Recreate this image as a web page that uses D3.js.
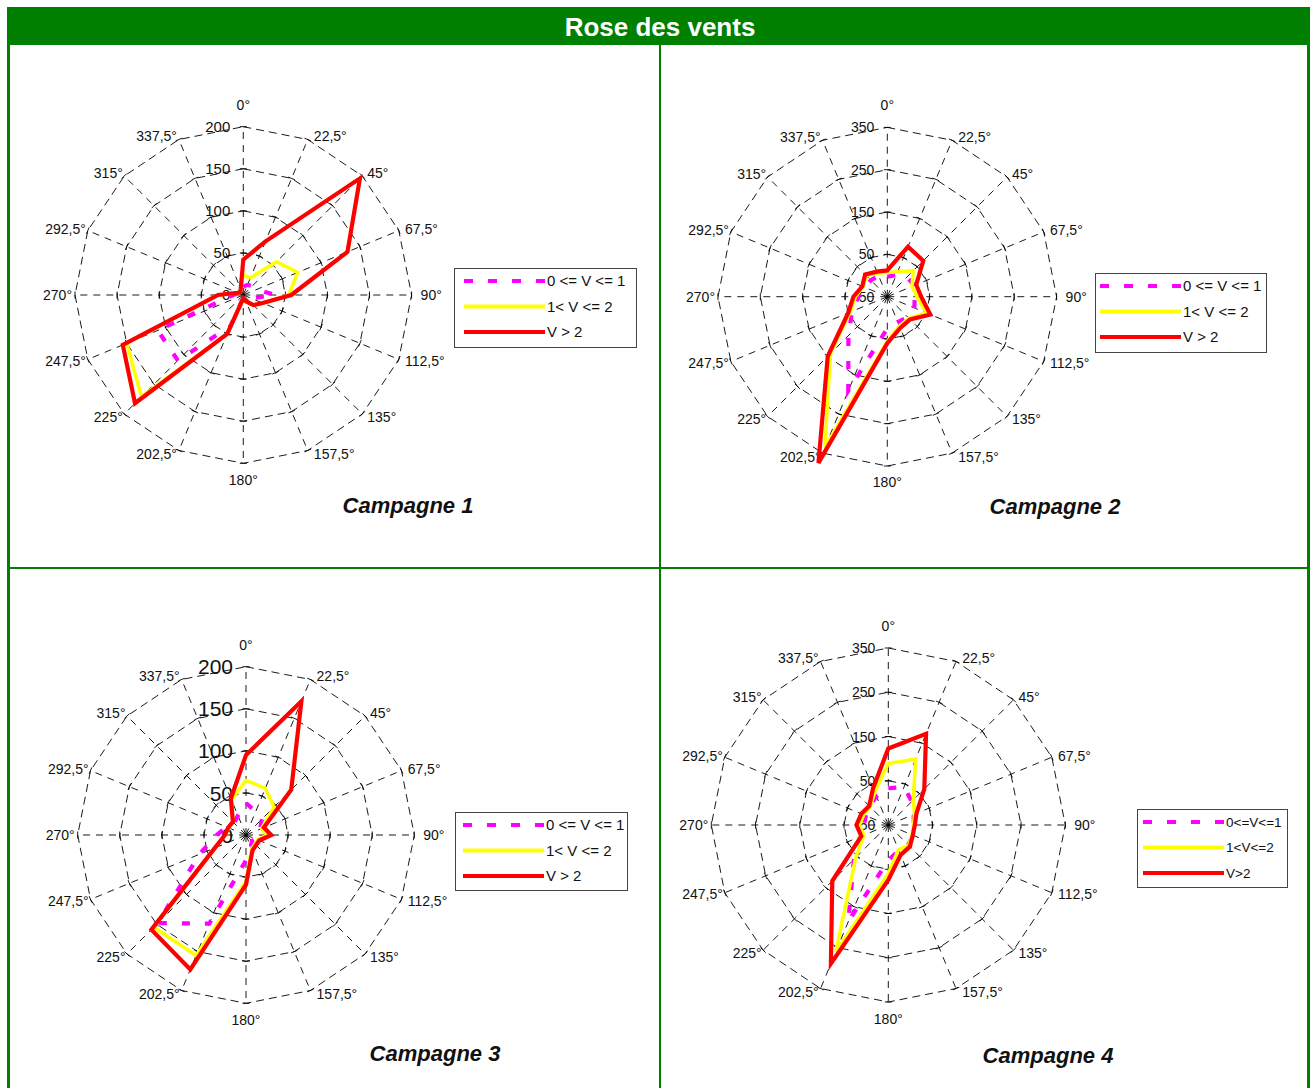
<!DOCTYPE html>
<html><head><meta charset="utf-8">
<script src="https://cdn.jsdelivr.net/npm/d3@7"></script>
<style>
body{margin:0;background:#fff}
svg{display:block}
text{font-family:"Liberation Sans",Arial,sans-serif;fill:#111}
</style>
</head><body>
<svg id="chart" width="1315" height="1088"></svg>
<script>
// Wind directions (compass degrees, clockwise from north)
const directions = [0,22.5,45,67.5,90,112.5,135,157.5,180,202.5,225,247.5,270,292.5,315,337.5];
const directionLabels = ["0°","22,5°","45°","67,5°","90°","112,5°","135°","157,5°","180°","202,5°","225°","247,5°","270°","292,5°","315°","337,5°"];

// Speed classes
const seriesNames = ["0 <= V <= 1","1< V <= 2","V > 2"];
const seriesNamesCompact = ["0<=V<=1","1<V<=2","V>2"];
const seriesColors = ["#ff00ff","#ffff00","#ff0000"];

// Campagne 1
const camp1Low  = [10,13,15,17,38,10,5,3,3,40,110,110,12,5,3,5];
const camp1Mid  = [24,22,56,70,54,25,17,8,4,50,171,150,30,7,5,8];
const camp1High = [42,69,196,134,57,25,17,8,4,50,182,155,30,7,5,8];
// Campagne 2
const camp2Low  = [-3,6,16,19,15,19,18,15,25,191,80,40,18,8,5,3];
const camp2Mid  = [7,14,37,13,20,50,22,25,55,335,140,45,25,12,20,10];
const camp2High = [12,78,70,24,30,60,26,30,60,375,149,50,30,14,24,14];
// Campagne 3
const camp3Low  = [38,30,27,18,15,12,10,15,30,114,148,60,35,25,20,25];
const camp3Mid  = [65,60,47,20,25,15,15,18,55,155,155,40,25,22,22,45];
const camp3High = [95,172,76,23,30,17,17,20,59,173,159,40,25,23,22,47];
// Campagne 4
const camp4Low  = [33,43,25,12,8,10,14,12,30,186,60,15,5,5,10,20];
const camp4Mid  = [89,111,30,14,7,8,15,10,60,260,54,10,15,10,8,30];
const camp4High = [123,173,65,19,10,10,19,23,74,289,129,16,22,16,11,40];

// Radial axis ticks
const ticksSmall = [0,50,100,150,200];
const ticksLarge = [-50,50,150,250,350];

const titleText = "Rose des vents";

const svg = d3.select("#chart");
const green = "#008000";

// Table frame: title row and 2x2 grid of cells
svg.append("rect").attr("x",7).attr("y",7).attr("width",1302).attr("height",38).attr("fill",green);
svg.append("text").attr("x",660).attr("y",36).attr("text-anchor","middle")
  .attr("font-size",26).attr("font-weight","bold").style("fill","#fff").text(titleText);
const frame = svg.append("g").attr("stroke",green).attr("fill","none");
frame.append("line").attr("x1",8.5).attr("x2",8.5).attr("y1",7).attr("y2",1088).attr("stroke-width",3);
frame.append("line").attr("x1",1308.5).attr("x2",1308.5).attr("y1",7).attr("y2",1088).attr("stroke-width",3);
frame.append("line").attr("x1",660).attr("x2",660).attr("y1",45).attr("y2",1088).attr("stroke-width",2);
frame.append("line").attr("x1",8).attr("x2",1309).attr("y1",568).attr("y2",568).attr("stroke-width",2);

const panels = [
  {cx:243.3, cy:295, R:168.3, ticks:ticksSmall, tickFont:15, data:[camp1Low,camp1Mid,camp1High],
   names:seriesNames, legend:{x:454,y:268,w:182,h:79,font:15,lx:10}, title:"Campagne 1", tx:408, ty:513},
  {cx:887.3, cy:296.7, R:169.3, ticks:ticksLarge, tickFont:14, data:[camp2Low,camp2Mid,camp2High],
   names:seriesNames, legend:{x:1095,y:273,w:171,h:79,font:15,lx:5}, title:"Campagne 2", tx:1055, ty:514},
  {cx:246, cy:835, R:168.3, ticks:ticksSmall, tickFont:21, data:[camp3Low,camp3Mid,camp3High],
   names:seriesNames, legend:{x:455,y:812,w:172,h:78,font:15,lx:8}, title:"Campagne 3", tx:435, ty:1061},
  {cx:888.3, cy:825, R:177, ticks:ticksLarge, tickFont:14, data:[camp4Low,camp4Mid,camp4High],
   names:seriesNamesCompact, legend:{x:1137,y:809,w:150,h:78,font:13.5,lx:6}, title:"Campagne 4", tx:1048, ty:1063}
];

const rad = d => d * Math.PI / 180;

panels.forEach(p => {
  const g = svg.append("g").attr("transform", `translate(${p.cx},${p.cy})`);
  const r = d3.scaleLinear().domain([p.ticks[0], p.ticks[p.ticks.length-1]]).range([0, p.R]);
  const ang = d3.scalePoint().domain(directions).range([0, 360 - 22.5]);

  // concentric polygon gridlines
  const ring = d3.lineRadial().angle(d => rad(ang(d))).curve(d3.curveLinearClosed);
  p.ticks.slice(1).forEach(t => {
    g.append("path").attr("d", ring.radius(r(t))(directions))
      .attr("fill","none").attr("stroke","#000").attr("stroke-width",0.9).attr("stroke-dasharray","8,5");
  });
  // spokes
  directions.forEach((d, k) => {
    const a = rad(ang(d));
    const s = Math.sin(a), c = Math.cos(a);
    g.append("line").attr("x1",0).attr("y1",0)
      .attr("x2", p.R*s).attr("y2", -p.R*c)
      .attr("stroke","#000").attr("stroke-width",0.9).attr("stroke-dasharray","7,6");
    // cross tick marks on every spoke
    p.ticks.slice(1).forEach(t => {
      const rr = r(t), px = rr*s, py = -rr*c;
      const nx = c*3.5, ny = s*3.5;
      g.append("line").attr("x1",px-nx).attr("y1",py-ny).attr("x2",px+nx).attr("y2",py+ny)
        .attr("stroke","#000").attr("stroke-width",0.9);
    });
    // direction label placed just outside the outer vertex
    const vx = p.R*s, vy = -p.R*c;
    let anchor = "middle", x = vx, y;
    if (Math.abs(s) < 0.2) { y = c > 0 ? vy - 17 : vy + 21.5; }
    else {
      anchor = s > 0 ? "start" : "end";
      const sc = Math.abs(s*c);
      x = s > 0 ? vx + 9 - 8*sc : vx - 3 + 3*sc;
      y = vy - 4*c + 5;
    }
    g.append("text").attr("x",x).attr("y",y).attr("text-anchor",anchor)
      .attr("font-size",14).text(directionLabels[k]);
  });
  // value labels along the north axis
  p.ticks.forEach(t => {
    g.append("text").attr("x",-13).attr("y",-r(t) + p.tickFont*0.36).attr("text-anchor","end")
      .attr("font-size",p.tickFont).text(t);
  });

  // series polygons
  const line = d3.lineRadial().angle((d,i) => rad(ang(directions[i]))).radius(d => r(d)).curve(d3.curveLinearClosed);
  p.data.forEach((vals, i) => {
    g.append("path").attr("d", line(vals)).attr("fill","none")
      .attr("stroke", seriesColors[i]).attr("stroke-width", i === 1 ? 3.5 : 4.2)
      .attr("stroke-linejoin","miter")
      .attr("stroke-dasharray", i === 0 ? "8,15" : null);
  });

  // legend
  const L = p.legend;
  const lg = svg.append("g").attr("transform", `translate(${L.x},${L.y})`);
  lg.append("rect").attr("x",0.5).attr("y",0.5).attr("width",L.w).attr("height",L.h)
    .attr("fill","#fff").attr("stroke","#444").attr("stroke-width",1);
  p.names.forEach((nm, i) => {
    const yy = 13 + i*25.5;
    lg.append("line").attr("x1",L.lx).attr("x2",L.lx+81).attr("y1",yy).attr("y2",yy)
      .attr("stroke",seriesColors[i]).attr("stroke-width",4)
      .attr("stroke-dasharray", i === 0 ? "9,15" : null);
    lg.append("text").attr("x",L.lx+83).attr("y",yy + L.font*0.36).attr("font-size",L.font)
      .text(nm);
  });

  // panel caption
  svg.append("text").attr("x",p.tx).attr("y",p.ty).attr("text-anchor","middle")
    .attr("font-size",22).attr("font-weight","bold").attr("font-style","italic").text(p.title);
});
</script>
</body></html>
